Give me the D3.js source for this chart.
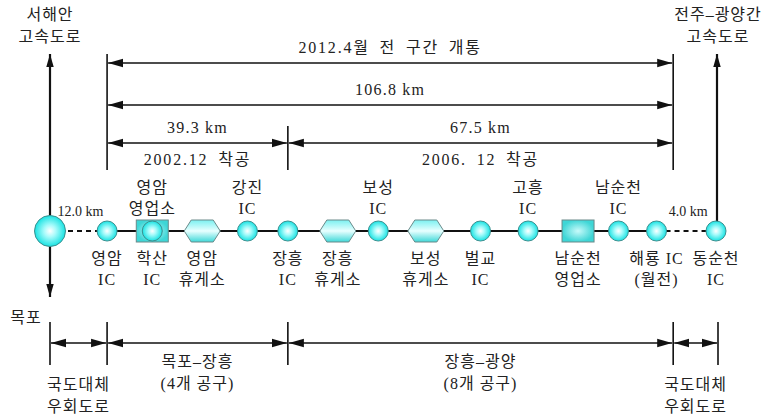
<!DOCTYPE html>
<html>
<head>
<meta charset="utf-8">
<script src="https://cdn.jsdelivr.net/npm/d3@7"></script>
<style>
  body { margin: 0; background: #fff; }
  text { font-family: "Liberation Serif", "Noto Sans CJK KR", serif; font-size: 16px; fill: #222; letter-spacing: 1px; }
  .span-label { letter-spacing: 1.8px; word-spacing: 4px; }
  .span-km { letter-spacing: 1.2px; word-spacing: 0px; }
</style>
</head>
<body>
<div id="wrapper"></div>
<script>
// nodes along the road, west to east
const nodeNames = ["서해안JCT", "영암 IC", "학산 IC", "영암 휴게소", "강진 IC", "장흥 IC", "장흥 휴게소",
  "보성 IC", "보성 휴게소", "벌교 IC", "고흥 IC", "남순천 영업소", "남순천 IC", "해룡 IC", "동순천 IC"]
const nodeTypes = ["jct", "ic", "icToll", "rest", "ic", "ic", "rest", "ic", "rest", "ic", "ic", "toll", "ic", "ic", "ic"]
const nodeSlots = [0, 1.2, 2.15, 3.2, 4.15, 5, 6.05, 6.9, 7.9, 9.05, 10.05, 11.1, 11.95, 12.75, 14]
const labelsAbove = [[], [], ["영암", "영업소"], [], ["강진", "IC"], [], [], ["보성", "IC"], [], [],
  ["고흥", "IC"], [], ["남순천", "IC"], [], []]
const labelsBelow = [[], ["영암", "IC"], ["학산", "IC"], ["영암", "휴게소"], [], ["장흥", "IC"], ["장흥", "휴게소"],
  [], ["보성", "휴게소"], ["벌교", "IC"], [], ["남순천", "영업소"], [], ["해룡 IC", "(월전)"], ["동순천", "IC"]]

// dimension spans (slot from, slot to, text above, text below)
const topSpans = [
  { from: 1.2, to: 13.1, above: "2012.4월 전 구간 개통", below: "", row: 0 },
  { from: 1.2, to: 13.1, above: "106.8 km", below: "", row: 1 },
  { from: 1.2, to: 5, above: "39.3 km", below: "2002.12 착공", row: 2 },
  { from: 5, to: 13.1, above: "67.5 km", below: "2006. 12 착공", row: 2 }
]
const bottomSpans = [
  { from: 0, to: 1.2, text: ["국도대체", "우회도로"], low: true },
  { from: 1.2, to: 5, text: ["목포–장흥", "(4개 공구)"], low: false },
  { from: 5, to: 13.1, text: ["장흥–광양", "(8개 공구)"], low: false },
  { from: 13.1, to: 14, text: ["국도대체", "우회도로"], low: true }
]
const dashedLinks = [{ from: 0, to: 1.2, label: "12.0 km" }, { from: 12.75, to: 14, label: "4.0 km" }]

const width = 771
const height = 418
const roadY = 231

const svg = d3.select("#wrapper").append("svg")
  .attr("width", width)
  .attr("height", height)

const x = d3.scaleLinear().domain([0, 14]).range([50, 716])
const rowY = d3.scaleOrdinal().domain([0, 1, 2]).range([63, 105, 143])

const defs = svg.append("defs")
const ball = defs.append("radialGradient").attr("id", "ball")
  .attr("cx", "50%").attr("cy", "50%").attr("r", "55%")
ball.append("stop").attr("offset", "0%").attr("stop-color", "#ffffff")
ball.append("stop").attr("offset", "35%").attr("stop-color", "#a8fbfb")
ball.append("stop").attr("offset", "100%").attr("stop-color", "#00dede")
const box = defs.append("radialGradient").attr("id", "box")
box.append("stop").attr("offset", "0%").attr("stop-color", "#c8fafa")
box.append("stop").attr("offset", "100%").attr("stop-color", "#3ed6d6")
const hex = defs.append("linearGradient").attr("id", "hex")
  .attr("x1", 0).attr("y1", 0).attr("x2", 0).attr("y2", 1)
hex.append("stop").attr("offset", "0%").attr("stop-color", "#7af0f0")
hex.append("stop").attr("offset", "50%").attr("stop-color", "#e8ffff")
hex.append("stop").attr("offset", "100%").attr("stop-color", "#3ed8d8")

function arrowMarker(id, size) {
  defs.append("marker").attr("id", id)
    .attr("viewBox", "0 -5 14 10")
    .attr("refX", 14).attr("refY", 0)
    .attr("markerWidth", size).attr("markerHeight", size * 10 / 14)
    .attr("markerUnits", "userSpaceOnUse")
    .attr("orient", "auto-start-reverse")
    .append("path").attr("d", "M0,-4L14,0L0,4Z").attr("fill", "#111")
}
arrowMarker("arr", 15)
arrowMarker("arrBig", 13)

// main vertical roads
svg.append("line").attr("x1", x(0)).attr("x2", x(0)).attr("y1", 297).attr("y2", 54)
  .attr("stroke", "#111").attr("stroke-width", 2.2)
  .attr("marker-start", "url(#arrBig)").attr("marker-end", "url(#arrBig)")
svg.append("line").attr("x1", x(14) + 1).attr("x2", x(14) + 1).attr("y1", roadY).attr("y2", 54)
  .attr("stroke", "#111").attr("stroke-width", 2.2)
  .attr("marker-end", "url(#arrBig)")

const topTexts = [["서해안", "고속도로"], ["전주–광양간", "고속도로"]]
;[x(0), x(14) + 2].forEach((cx, i) => {
  topTexts[i].forEach((t, j) => {
    svg.append("text").attr("x", cx).attr("y", 20 + j * 22)
      .attr("text-anchor", "middle").text(t)
  })
})
svg.append("text").attr("x", 26).attr("y", 323).attr("text-anchor", "middle").text("목포")

// top dimension boundaries
svg.selectAll(".topTick")
  .data([[1.2, 54], [5, 126], [13.1, 54]])
  .join("line")
  .attr("x1", d => x(d[0])).attr("x2", d => x(d[0]))
  .attr("y1", d => d[1]).attr("y2", 170)
  .attr("stroke", "#111").attr("stroke-width", 1.6)

const spanClass = t => t.endsWith("km") ? "span-km" : "span-label"
topSpans.forEach(s => {
  const y = rowY(s.row)
  svg.append("line")
    .attr("x1", x(s.from) + 1).attr("x2", x(s.to) - 1)
    .attr("y1", y).attr("y2", y)
    .attr("stroke", "#111").attr("stroke-width", 1.3)
    .attr("marker-start", "url(#arr)").attr("marker-end", "url(#arr)")
  const cx = (x(s.from) + x(s.to)) / 2
  svg.append("text").attr("class", spanClass(s.above)).attr("x", cx).attr("y", y - 10)
    .attr("text-anchor", "middle").text(s.above)
  if (s.below) {
    svg.append("text").attr("class", spanClass(s.below)).attr("x", cx).attr("y", y + 22)
      .attr("text-anchor", "middle").text(s.below)
  }
})

// road
svg.append("line").attr("x1", x(1.2)).attr("x2", x(12.75))
  .attr("y1", roadY).attr("y2", roadY)
  .attr("stroke", "#111").attr("stroke-width", 2.2)
dashedLinks.forEach(l => {
  svg.append("line").attr("x1", x(l.from)).attr("x2", x(l.to))
    .attr("y1", roadY).attr("y2", roadY)
    .attr("stroke", "#111").attr("stroke-width", 2.2).attr("stroke-dasharray", "5,4")
  svg.append("text").attr("x", (x(l.from) + x(l.to)) / 2 + 2).attr("y", roadY - 15)
    .attr("text-anchor", "middle").style("font-size", "14px").style("letter-spacing", "0px").text(l.label)
})

// nodes
const nodes = nodeNames.map((n, i) => ({ name: n, type: nodeTypes[i], slot: nodeSlots[i], above: labelsAbove[i], below: labelsBelow[i] }))
const g = svg.selectAll(".node").data(nodes).join("g")
  .attr("class", "node")
  .attr("transform", d => `translate(${x(d.slot)},${roadY})`)

g.filter(d => d.type === "toll" || d.type === "icToll")
  .append("rect").attr("x", -16).attr("y", -11).attr("width", 32).attr("height", 22)
  .attr("fill", "url(#box)").attr("stroke", "#6a8a8a").attr("stroke-width", 1)
g.filter(d => d.type === "rest")
  .append("polygon").attr("points", "-18,0 -11,-11 11,-11 18,0 11,11 -11,11")
  .attr("fill", "url(#hex)").attr("stroke", "#6a8a8a").attr("stroke-width", 1)
g.filter(d => d.type === "jct" || d.type === "ic" || d.type === "icToll")
  .append("circle").attr("r", d => d.type === "jct" ? 15.5 : 10)
  .attr("fill", "url(#ball)").attr("stroke", "#3b8f8f").attr("stroke-width", 1)

g.each(function(d) {
  const sel = d3.select(this)
  d.above.forEach((t, j) => {
    sel.append("text").attr("y", -38 + j * 21)
      .attr("text-anchor", "middle").text(t)
  })
  d.below.forEach((t, j) => {
    sel.append("text").attr("y", 33 + j * 21)
      .attr("text-anchor", "middle").text(t)
  })
})

// bottom dimension
svg.selectAll(".botTick")
  .data([0, 1.2, 5, 13.1, 14])
  .join("line")
  .attr("x1", d => x(d) + (d === 14 ? 2 : 0)).attr("x2", d => x(d) + (d === 14 ? 2 : 0))
  .attr("y1", 322).attr("y2", 365)
  .attr("stroke", "#111").attr("stroke-width", 1.6)
bottomSpans.forEach(s => {
  const x1 = x(s.from) + 1
  const x2 = x(s.to) + (s.to === 14 ? 2 : 0) - 1
  svg.append("line").attr("x1", x1).attr("x2", x2)
    .attr("y1", 343).attr("y2", 343)
    .attr("stroke", "#111").attr("stroke-width", 1.3)
    .attr("marker-start", "url(#arr)").attr("marker-end", "url(#arr)")
  s.text.forEach((t, j) => {
    svg.append("text").attr("x", (x1 + x2) / 2).attr("y", (s.low ? 390 : 367) + j * 22)
      .attr("text-anchor", "middle").text(t)
  })
})
</script>
</body>
</html>
